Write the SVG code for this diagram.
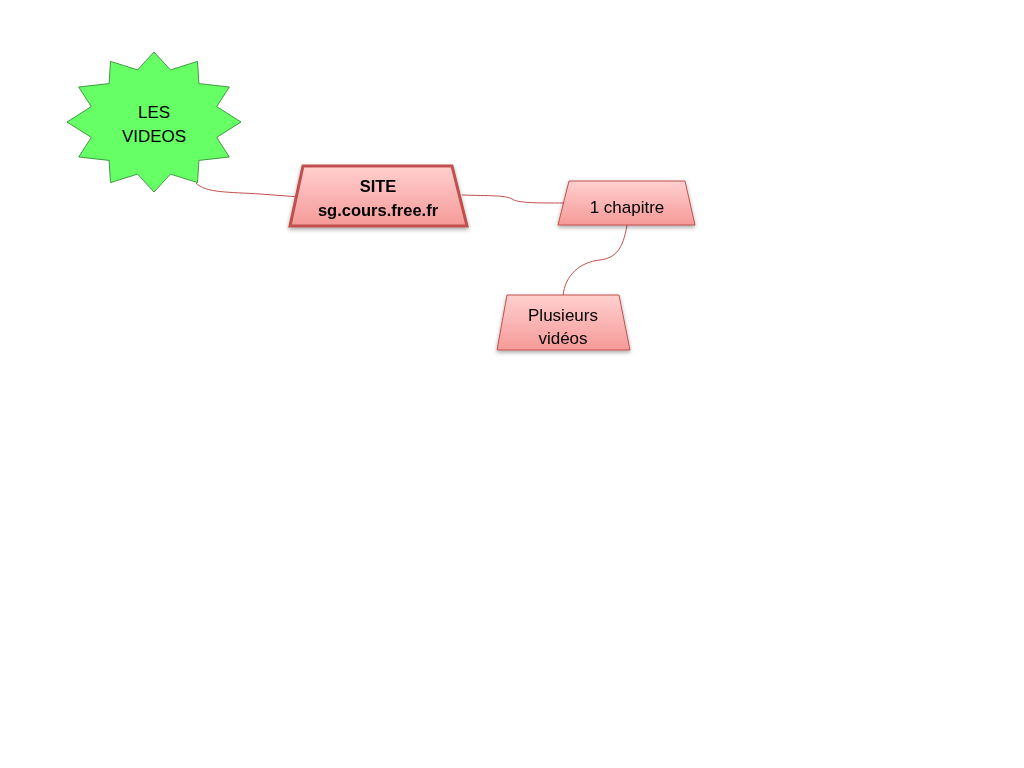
<svg xmlns="http://www.w3.org/2000/svg" width="1024" height="768" viewBox="0 0 1024 768">
<defs>
<linearGradient id="pink" x1="0" y1="0" x2="0" y2="1">
<stop offset="0" stop-color="#ffd0cf"/>
<stop offset="1" stop-color="#f59a98"/>
</linearGradient>
<filter id="sh" x="-20%" y="-20%" width="140%" height="150%">
<feGaussianBlur in="SourceAlpha" stdDeviation="2"/>
<feOffset dx="0" dy="2" result="b"/>
<feComponentTransfer><feFuncA type="linear" slope="0.35"/></feComponentTransfer>
<feMerge><feMergeNode/><feMergeNode in="SourceGraphic"/></feMerge>
</filter>
</defs>
<style>
text{font-family:"Liberation Sans","Open Sans",sans-serif;font-size:17px;fill:#000;text-anchor:middle}
.b{font-weight:bold;font-size:16.5px}
.node{fill:url(#pink);stroke:#c0504d;stroke-width:1}
.conn{fill:none;stroke:#c0504d;stroke-width:1}
</style>
<rect width="1024" height="768" fill="#fff"/>
<g id="connectors">
<path class="conn" d="M196,183 C205,193 230,192 260,194 L300,197"/>
<path class="conn" d="M462,195 C490,196 505,195 512,199 C518,203 535,203 565,203"/>
<path class="conn" d="M627,225 C623,250 615,258 600,260 C580,262 565,275 563,296"/>
</g>
<g id="les-videos">
<polygon points="154,52 137.6,69.9 110.5,61.4 109.1,83.6 78.7,87 91.3,106.6 67,122 91.3,137.4 78.7,157 109.1,160.4 110.5,182.6 137.6,174.1 154,192 170.4,174.1 197.5,182.6 198.9,160.4 229.3,157 216.7,137.4 241,122 216.7,106.6 229.3,87 198.9,83.6 197.5,61.4 170.4,69.9" fill="#66ff66" stroke="#3f9b3f" stroke-width="1"/>
<text x="154" y="118">LES</text>
<text x="154" y="142">VIDEOS</text>
</g>
<g id="site" filter="url(#sh)">
<polygon points="303,166 452,166 467,226 290,226" fill="url(#pink)" stroke="#c0504d" stroke-width="3"/>
<text class="b" x="378" y="192">SITE</text>
<text class="b" x="378" y="216">sg.cours.free.fr</text>
</g>
<g id="chapitre" filter="url(#sh)">
<polygon class="node" points="569,181 685,181 695,225 558,225"/>
<text x="627" y="213">1 chapitre</text>
</g>
<g id="plusieurs" filter="url(#sh)">
<polygon class="node" points="507,295 619,295 630,350 497,350"/>
<text x="563" y="321">Plusieurs</text>
<text x="563" y="344">vidéos</text>
</g>
</svg>
